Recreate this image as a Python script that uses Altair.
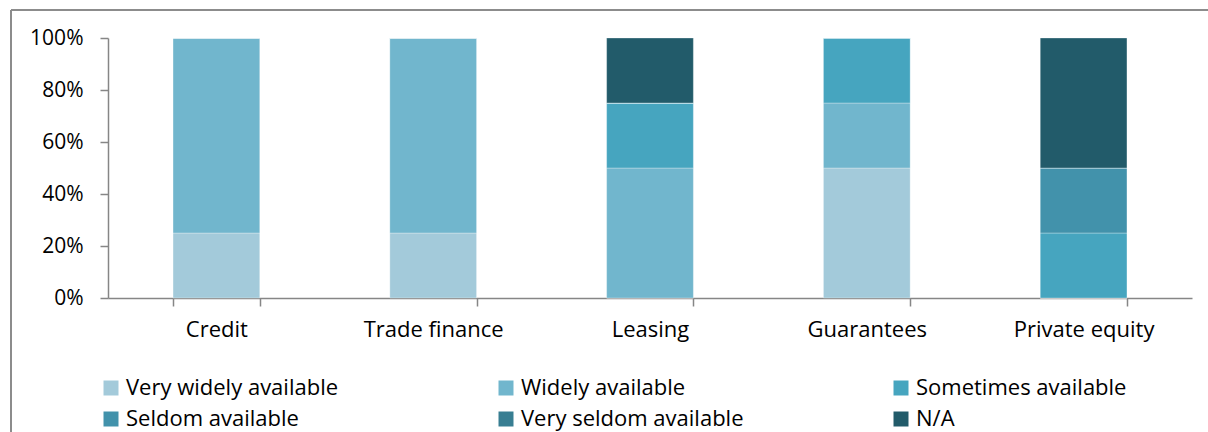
import altair as alt
import pandas as pd

categories = ["Credit", "Trade finance", "Leasing", "Guarantees", "Private equity"]
levels = ["Very widely available", "Widely available", "Sometimes available",
          "Seldom available", "Very seldom available", "N/A"]
colors = ["#A3CADA", "#71B6CD", "#46A5BF", "#4292AB", "#387E92", "#225B6A"]

very_widely = [25, 25, 0, 50, 0]
widely = [75, 75, 50, 25, 0]
sometimes = [0, 0, 25, 25, 25]
seldom = [0, 0, 0, 0, 25]
very_seldom = [0, 0, 0, 0, 0]
na = [0, 0, 25, 0, 50]

series = [very_widely, widely, sometimes, seldom, very_seldom, na]
rows = []
for li, (lvl, vals) in enumerate(zip(levels, series)):
    for cat, v in zip(categories, vals):
        rows.append({"category": cat, "level": lvl, "order": li, "value": v})
df = pd.DataFrame(rows)

# legend fills column by column: reorder so rows read left-to-right like the reference
legend_order = [0, 3, 1, 4, 2, 5]
legend_domain = [levels[i] for i in legend_order]
legend_range = [colors[i] for i in legend_order]

FONT = "Open Sans"
FS = 22
AXIS_COLOR = "#868686"

bars = alt.Chart(df).mark_bar(stroke="#ffffff", strokeWidth=0.6, strokeOpacity=0.5).encode(
    x=alt.X("category:N", sort=categories,
            scale=alt.Scale(paddingInner=0.6, paddingOuter=0.3),
            axis=alt.Axis(title=None, labelAngle=0, tickBand="extent", tickSize=8,
                          grid=False,
                          labelPadding=13, labelFontSize=FS, labelColor="#000000",
                          domainColor=AXIS_COLOR, tickColor=AXIS_COLOR,
                          domainWidth=1.5, tickWidth=1.5, labelFont=FONT)),
    y=alt.Y("value:Q", stack="normalize",
            scale=alt.Scale(domain=[0, 1]),
            axis=alt.Axis(title=None, format=".0%", values=[0, 0.2, 0.4, 0.6, 0.8, 1.0],
                          grid=False, tickSize=8, labelPadding=17, labelFontSize=21,
                          labelColor="#000000", domainColor=AXIS_COLOR, tickColor=AXIS_COLOR,
                          domainWidth=1.5, tickWidth=1.5, labelFont=FONT)),
    color=alt.Color("level:N", scale=alt.Scale(domain=legend_domain, range=legend_range),
                    legend=alt.Legend(title=None, orient="none", legendX=-8, legendY=339,
                                      columns=3, gridAlign="all", columnPadding=146,
                                      rowPadding=9, symbolType="square", symbolSize=225,
                                      symbolStrokeWidth=0, labelFontSize=FS,
                                      labelFont=FONT, labelColor="#000000",
                                      labelOffset=4, labelLimit=400)),
    order=alt.Order("order:Q"),
)

frame_left = alt.Chart(df).mark_rule(color="#8C8C8C", strokeWidth=2).encode(
    x=alt.value(-97), y=alt.value(-28), y2=alt.value(400))
frame_top = alt.Chart(df).mark_rule(color="#8C8C8C", strokeWidth=2).encode(
    x=alt.value(-97), x2=alt.value(1200), y=alt.value(-28))

chart = alt.layer(bars, frame_left, frame_top).properties(
    width=1084, height=260,
    autosize=alt.AutoSizeParams(type="none"),
    padding={"left": 108, "top": 38, "right": 16, "bottom": 134},
    view=alt.ViewBackground(stroke=None, strokeWidth=0),
).configure_view(strokeWidth=0, stroke=None).configure(font=FONT)

chart.save("out.html", embed_options={"renderer": "svg", "actions": False})
